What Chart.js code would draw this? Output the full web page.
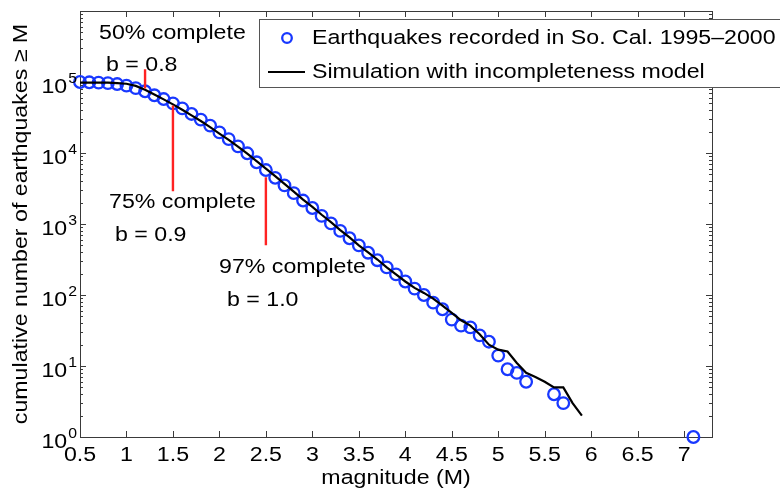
<!DOCTYPE html>
<html>
<head>
<meta charset="utf-8">
<script src="https://cdn.jsdelivr.net/npm/chart.js@4/dist/chart.umd.min.js"></script>
<style>
  body { margin: 0; background: #fff; }
  #wrap { width: 780px; height: 491px; }
</style>
</head>
<body>
<div id="wrap"><canvas id="chart" width="780" height="491"></canvas></div>
<script>
// observed catalogue (So. Cal. 1995-2000)
const obsMag = [0.5, 0.6, 0.7, 0.8, 0.9, 1.0, 1.1, 1.2, 1.3, 1.4, 1.5, 1.6, 1.7, 1.8, 1.9, 2.0,
                2.1, 2.2, 2.3, 2.4, 2.5, 2.6, 2.7, 2.8, 2.9, 3.0, 3.1, 3.2, 3.3, 3.4, 3.5, 3.6,
                3.7, 3.8, 3.9, 4.0, 4.1, 4.2, 4.3, 4.4, 4.5, 4.6, 4.7, 4.8, 4.9, 5.0, 5.1, 5.2,
                5.3, 5.6, 5.7, 7.1];
const obsCount = [100000, 99000, 98000, 96500, 93500, 89000, 82000, 74000, 65000, 57500, 50000, 42500,
                  35500, 29500, 24300, 19500, 15700, 12400, 9900, 7400, 5750, 4470, 3500, 2720, 2140,
                  1680, 1300, 1020, 800, 630, 500, 394, 309, 245, 195, 155, 123, 100, 78, 63, 45, 37,
                  35, 27, 22, 14, 9, 8, 6, 4, 3, 1];

// simulation with incompleteness model
const simMag = [0.5, 0.6, 0.7, 0.8, 0.9, 1.0, 1.1, 1.2, 1.3, 1.4, 1.5, 1.6, 1.7, 1.8, 1.9, 2.0,
                2.1, 2.2, 2.3, 2.4, 2.5, 2.6, 2.7, 2.8, 2.9, 3.0, 3.1, 3.2, 3.3, 3.4, 3.5, 3.6,
                3.7, 3.8, 3.9, 4.0, 4.1, 4.2, 4.3, 4.4, 4.5, 4.6, 4.7, 4.8, 4.9, 5.0, 5.1, 5.2,
                5.3, 5.4, 5.5, 5.6, 5.7, 5.8, 5.9];
const simCount = [97700, 97700, 97700, 97700, 96600, 94400, 88100, 77600, 66800, 56900, 48400, 40700,
                  33900, 28200, 23200, 18800, 15300, 12300, 9770, 7670, 6030, 4730, 3670, 2850, 2210,
                  1740, 1350, 1060, 822, 646, 501, 398, 316, 245, 195, 155, 126, 107, 89, 71, 56, 44,
                  37, 28, 20, 17, 16, 11, 8, 7, 6, 5, 5, 3, 2];

// red completeness markers
const markMag    = [1.2, 1.5, 2.5];
const markTop    = [151000, 46800, 4540];
const markBottom = [80700, 2900, 500];
const markText   = [['50% complete', 'b = 0.8'], ['75% complete', 'b = 0.9'], ['97% complete', 'b = 1.0']];

const xTicks = [0.5, 1, 1.5, 2, 2.5, 3, 3.5, 4, 4.5, 5, 5.5, 6, 6.5, 7];
const xTickLabels = ['0.5', '1', '1.5', '2', '2.5', '3', '3.5', '4', '4.5', '5', '5.5', '6', '6.5', '7'];
const yTicks = [1, 10, 100, 1000, 10000, 100000];
const yExp = ['0', '1', '2', '3', '4', '5'];

const FONT = '"Liberation Sans", Arial, Helvetica, sans-serif';
const FS = 20.5;
const SX = 1.13;       // text in the picture is stretched sideways
const AXIS = '#3a3a3a';
const BLUE = '#1838ff';

function txt(ctx, s, x, y, size, align) {
    ctx.save();
    ctx.font = size + 'px ' + FONT;
    const w = ctx.measureText(s).width * SX;
    const x0 = align === 'center' ? x - w / 2 : align === 'right' ? x - w : x;
    ctx.translate(x0, y);
    ctx.scale(SX, 1);
    ctx.textAlign = 'left';
    ctx.textBaseline = 'middle';
    ctx.fillStyle = '#000';
    ctx.fillText(s, 0, 0);
    ctx.restore();
    return w;
}

const markSets = markMag.map((m, i) => ({
    data: [{ x: m, y: markTop[i] }, { x: m, y: markBottom[i] }],
    showLine: true, borderColor: '#ff2222', borderWidth: 2.4, pointRadius: 0, order: 0
}));

const frame = {
    id: 'frame',
    beforeDatasetsDraw(chart) {
        const { ctx, chartArea: a, scales: { x, y } } = chart;
        ctx.save();
        ctx.strokeStyle = AXIS;
        ctx.lineWidth = 1;
        ctx.beginPath();
        xTicks.forEach(v => {
            const px = Math.round(x.getPixelForValue(v)) + 0.5;
            ctx.moveTo(px, a.bottom); ctx.lineTo(px, a.bottom - 6);
            ctx.moveTo(px, a.top); ctx.lineTo(px, a.top + 6);
        });
        for (let e = 0; e < 6; e++) {
            for (let k = 1; k <= 9; k++) {
                const py = Math.round(y.getPixelForValue(k * Math.pow(10, e))) + 0.5;
                const len = k === 1 ? 6 : 3;
                ctx.moveTo(a.left, py); ctx.lineTo(a.left + len, py);
                ctx.moveTo(a.right, py); ctx.lineTo(a.right - len, py);
            }
        }
        ctx.stroke();
        ctx.strokeRect(Math.round(a.left) + 0.5, Math.round(a.top) + 0.5,
                       Math.round(a.right - a.left), Math.round(a.bottom - a.top));
        ctx.restore();
    },
    afterDraw(chart) {
        const { ctx, chartArea: a, scales: { x, y } } = chart;
        // tick labels
        xTicks.forEach((v, i) => txt(ctx, xTickLabels[i], x.getPixelForValue(v), 455, FS, 'center'));
        yTicks.forEach((v, i) => {
            const py = y.getPixelForValue(v);
            const we = txt(ctx, yExp[i], a.left - 3, py - 3, 14, 'right');
            txt(ctx, '10', a.left - 4 - we, py + 5, FS, 'right');
        });
        // axis titles
        txt(ctx, 'magnitude (M)', (a.left + a.right) / 2, 478, FS, 'center');
        ctx.save();
        ctx.translate(21, (a.top + a.bottom) / 2);
        ctx.rotate(-Math.PI / 2);
        txt(ctx, 'cumulative number of earthquakes \u2265 M', 0, 0, FS, 'center');
        ctx.restore();
        // annotations
        const pos = [[99, 33, 106, 65], [109, 202, 115, 235], [219, 267, 227, 300]];
        markText.forEach((t, i) => {
            txt(ctx, t[0], pos[i][0], pos[i][1], FS, 'left');
            txt(ctx, t[1], pos[i][2], pos[i][3], FS, 'left');
        });
        // legend
        ctx.save();
        ctx.fillStyle = '#fff';
        ctx.fillRect(259.5, 19.5, 540, 68);
        ctx.strokeStyle = '#555';
        ctx.lineWidth = 1;
        ctx.strokeRect(259.5, 19.5, 540, 68);
        ctx.strokeStyle = BLUE;
        ctx.lineWidth = 2.3;
        ctx.beginPath();
        ctx.arc(287, 38, 4.8, 0, Math.PI * 2);
        ctx.stroke();
        ctx.strokeStyle = '#000';
        ctx.lineWidth = 2;
        ctx.beginPath();
        ctx.moveTo(268, 72); ctx.lineTo(305, 72);
        ctx.stroke();
        ctx.restore();
        txt(ctx, 'Earthquakes recorded in So. Cal. 1995\u20132000', 312, 38, FS, 'left');
        txt(ctx, 'Simulation with incompleteness model', 312, 72, FS, 'left');
    }
};

new Chart(document.getElementById('chart'), {
    type: 'scatter',
    data: {
        datasets: [
            {
                label: 'Earthquakes recorded in So. Cal. 1995\u20132000',
                data: obsMag.map((m, i) => ({ x: m, y: obsCount[i] })),
                pointStyle: 'circle', pointRadius: 5.8, pointBorderWidth: 2.3,
                borderColor: BLUE, backgroundColor: 'rgba(0,0,0,0)', clip: false, order: 2
            },
            {
                label: 'Simulation with incompleteness model',
                data: simMag.map((m, i) => ({ x: m, y: simCount[i] })),
                showLine: true, borderColor: '#000', borderWidth: 2.2, pointRadius: 0, order: 1
            },
            ...markSets
        ]
    },
    options: {
        responsive: false,
        animation: false,
        layout: { padding: { top: 11, right: 68, left: 0, bottom: 0 } },
        plugins: { legend: { display: false }, tooltip: { enabled: false } },
        scales: {
            x: {
                type: 'linear', min: 0.5, max: 7.3,
                grid: { display: false }, border: { display: false },
                ticks: { display: false },
                afterBuildTicks: s => { s.ticks = xTicks.map(v => ({ value: v })); },
                afterFit: s => { s.height = 54; }
            },
            y: {
                type: 'logarithmic', min: 1, max: 1000000,
                grid: { display: false }, border: { display: false },
                ticks: { display: false },
                afterBuildTicks: s => { s.ticks = yTicks.map(v => ({ value: v })); },
                afterFit: s => { s.width = 80; }
            }
        }
    },
    plugins: [frame]
});
</script>
</body>
</html>
